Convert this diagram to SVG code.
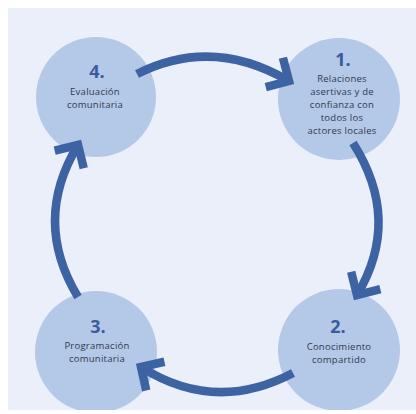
<svg xmlns="http://www.w3.org/2000/svg" width="416" height="414" viewBox="0 0 416 414">
  <defs>
    <style>
      .node circle { fill: #B4C8E7; }
      .num { font-family: "Open Sans", "Liberation Sans", sans-serif; font-weight: bold; font-size: 18px; fill: #3B5C9C; text-anchor: middle; }
      .lbl { font-family: "Open Sans", "Liberation Sans", sans-serif; font-size: 9.5px; letter-spacing: 0.25px; fill: #2E3B52; text-anchor: middle; }
      .conn path { fill: none; stroke: #3D63A3; stroke-width: 8.5; }
    </style>
    <marker id="head" markerUnits="userSpaceOnUse" orient="auto" refX="0" refY="0" markerWidth="60" markerHeight="60" viewBox="-30 -30 60 60" overflow="visible">
      <path d="M-17,-17 L0,0 L-17,17" fill="none" stroke="#3D63A3" stroke-width="8.5" stroke-linejoin="miter"/>
    </marker>
    <clipPath id="bgclip"><rect x="8" y="8" width="408" height="402"/></clipPath>
  </defs>
  <rect width="416" height="414" fill="#FFFFFF"/>
  <rect x="8" y="8" width="408" height="402" fill="#EBEFF9"/>
  <g clip-path="url(#bgclip)">
    <g id="node4" class="node">
      <circle cx="96" cy="97" r="60"/>
      <text class="num" x="97" y="78">4.</text>
      <text class="lbl" x="95" y="95">Evaluación</text>
      <text class="lbl" x="95" y="108">comunitaria</text>
    </g>
    <g id="node1" class="node">
      <circle cx="339" cy="99" r="61"/>
      <text class="num" x="343" y="66">1.</text>
      <text class="lbl" x="342" y="82">Relaciones</text>
      <text class="lbl" x="342" y="95">asertivas y de</text>
      <text class="lbl" x="342" y="108">confianza con</text>
      <text class="lbl" x="342" y="121">todos los</text>
      <text class="lbl" x="342" y="134">actores locales</text>
    </g>
    <g id="node3" class="node">
      <circle cx="96" cy="352" r="61"/>
      <text class="num" x="98" y="333">3.</text>
      <text class="lbl" x="97" y="349">Programación</text>
      <text class="lbl" x="97" y="362">comunitaria</text>
    </g>
    <g id="node2" class="node">
      <circle cx="339" cy="350" r="61"/>
      <text class="num" x="338" y="333">2.</text>
      <text class="lbl" x="339" y="350">Conocimiento</text>
      <text class="lbl" x="339" y="363">compartido</text>
    </g>
    <g id="connectors" class="conn">
      <path d="M137,74 Q212,36 289,81" marker-end="url(#head)"/>
      <path d="M353,143 Q402,220 357,295" marker-end="url(#head)"/>
      <path d="M293,373 Q215,414 141,367" marker-end="url(#head)"/>
      <path d="M78,297 Q32,221 78,145" marker-end="url(#head)"/>
    </g>
  </g>
</svg>
